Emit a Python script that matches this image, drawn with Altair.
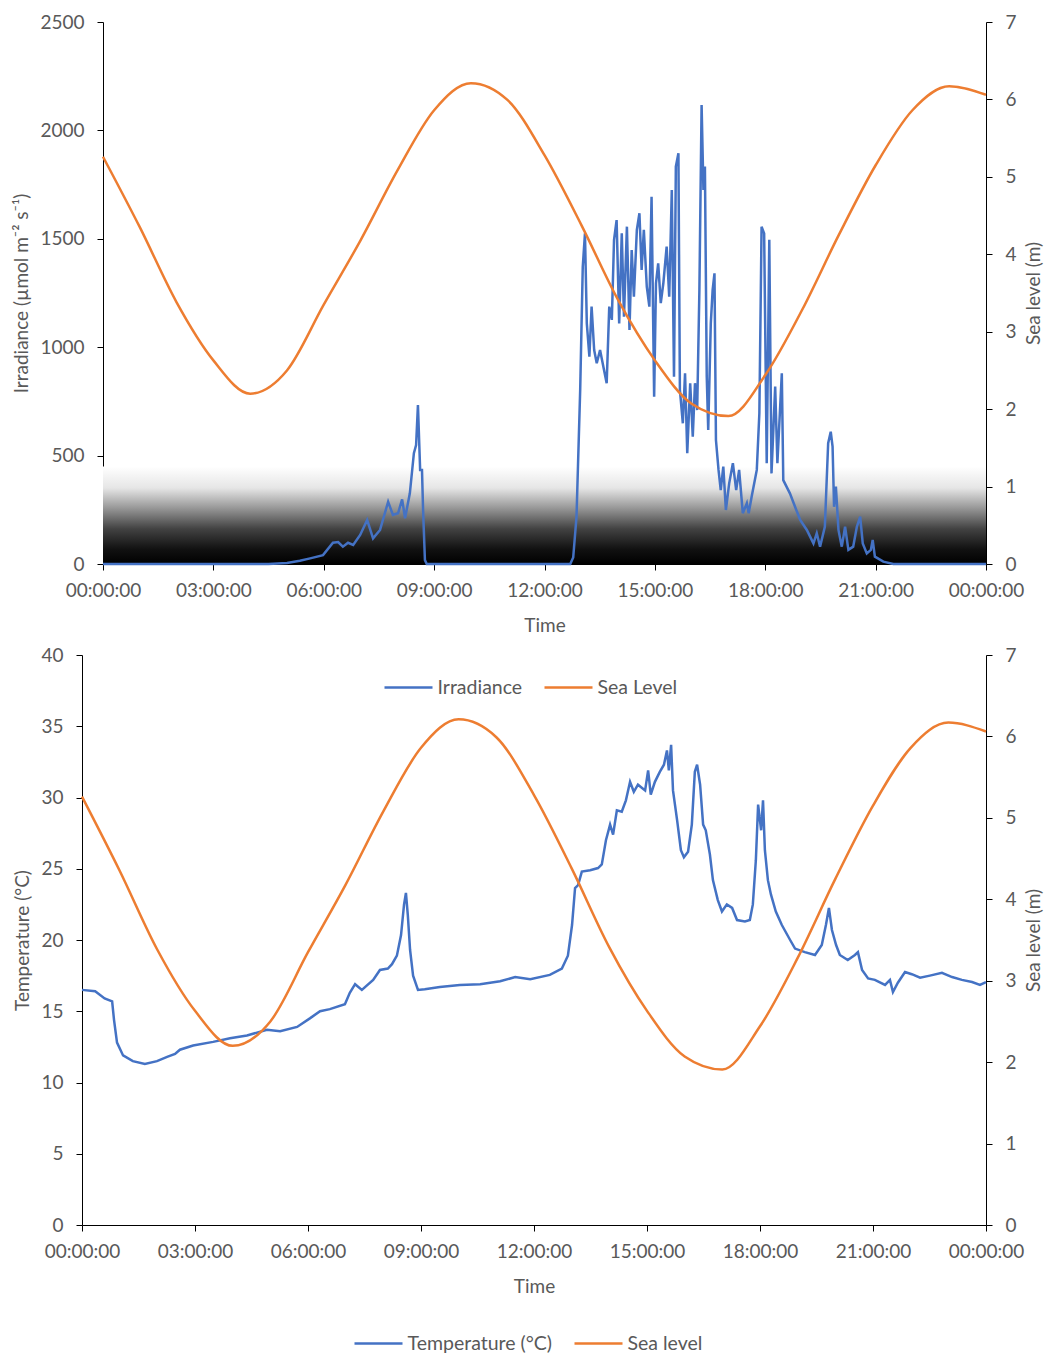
import altair as alt
import pandas as pd

FONT = "Lato"
TEXT = "#595959"
BLUE = "#4472C4"
ORANGE = "#ED7D31"

HOUR_TICKS = [0, 3, 6, 9, 12, 15, 18, 21, 24]

# ---- Sea level (m), shared by both panels ----
SEA_H = [0, 1, 2, 3, 4, 5, 6, 7, 8, 9, 10, 11, 12, 13, 14, 15, 16, 17, 18, 19, 20, 21, 22, 23, 24]
SEA_M = [5.26, 4.35, 3.38, 2.63, 2.20, 2.50, 3.35, 4.18, 5.08, 5.86, 6.21, 5.99, 5.28, 4.38,
         3.41, 2.63, 2.07, 1.91, 2.44, 3.28, 4.25, 5.15, 5.86, 6.17, 6.06]

# ---- Irradiance (umol m-2 s-1) ----
IRR_H = [0, 4.5, 5.0, 5.35, 5.63, 5.98, 6.25, 6.39, 6.52, 6.66, 6.8, 6.99, 7.18, 7.34, 7.53,
         7.75, 7.88, 8.02, 8.13, 8.21, 8.34, 8.45, 8.51, 8.56, 8.62, 8.67, 8.70, 8.75, 8.8,
         12.7, 12.78, 12.87, 12.97, 13.04, 13.1, 13.15, 13.22, 13.28, 13.35, 13.42, 13.51,
         13.6, 13.69, 13.76, 13.83, 13.89, 13.96, 14.03, 14.1, 14.16, 14.24, 14.31, 14.37,
         14.43, 14.51, 14.58, 14.64, 14.7, 14.78, 14.85, 14.91, 14.98, 15.03, 15.09, 15.16,
         15.23, 15.32, 15.39, 15.46, 15.52, 15.57, 15.64, 15.68, 15.76, 15.82, 15.88, 15.96,
         16.03, 16.09, 16.15, 16.21, 16.27, 16.32, 16.36, 16.41, 16.45, 16.52, 16.57, 16.62,
         16.66, 16.73, 16.79, 16.86, 16.93, 17.02, 17.12, 17.21, 17.29, 17.39, 17.5, 17.55,
         17.63, 17.77, 17.84, 17.9, 17.97, 18.04, 18.11, 18.17, 18.27, 18.33, 18.45, 18.49,
         18.67, 18.81, 18.95, 19.13, 19.31, 19.4, 19.49, 19.62, 19.71, 19.78, 19.83, 19.87,
         19.92, 19.99, 20.08, 20.17, 20.26, 20.39, 20.49, 20.58, 20.65, 20.76, 20.87, 20.92,
         20.98, 21.21, 21.48, 24]
IRR_V = [0, 0, 5, 15, 26, 41, 98, 101, 80, 98, 88, 134, 203, 118, 157,
         287, 226, 234, 298, 211, 326, 511, 549, 733, 434, 434, 249, 18, 0,
         0, 30, 218, 803, 1371, 1525, 1110, 956, 1187, 987, 926, 987,
         910, 834, 1187, 1126, 1495, 1586, 1110, 1525, 1141, 1556, 1079, 1448,
         1233, 1541, 1618, 1356, 1541, 1279, 1187, 1694, 772, 1295, 1387, 1203,
         1295, 1464, 1233, 1725, 864, 1833, 1895, 803, 649, 880, 511, 834,
         587, 834, 710, 1264, 2117, 1725, 1833, 864, 618, 1110, 1264, 1341,
         572, 434, 341, 449, 249, 372, 465, 341, 434, 234, 280, 234,
         310, 434, 695, 1556, 1525, 465, 1495, 418, 818, 465, 880, 387,
         326, 264, 203, 157, 95, 142, 80, 172, 557, 610, 541, 264,
         357, 157, 80, 172, 65, 80, 172, 218, 95, 49, 65, 111,
         34, 11, 0, 0]

# ---- Temperature (degC) ----
TEMP_H = [0, 0.35, 0.6, 0.8, 0.85, 0.93, 1.09, 1.35, 1.67, 1.99, 2.26, 2.47, 2.6, 2.95, 3.48,
          3.93, 4.38, 4.91, 5.26, 5.71, 6.05, 6.32, 6.58, 6.98, 7.11, 7.25, 7.43, 7.73, 7.91,
          8.12, 8.23, 8.36, 8.47, 8.55, 8.6, 8.65, 8.71, 8.79, 8.92, 9.1, 9.5, 10.03, 10.57,
          11.1, 11.5, 11.9, 12.42, 12.74, 12.9, 13.01, 13.09, 13.17, 13.27, 13.49, 13.7, 13.8,
          13.91, 14.02, 14.1, 14.2, 14.33, 14.44, 14.55, 14.65, 14.76, 14.95, 15.03, 15.1,
          15.21, 15.34, 15.45, 15.53, 15.58, 15.64, 15.69, 15.8, 15.9, 15.98, 16.09, 16.19,
          16.27, 16.33, 16.41, 16.49, 16.56, 16.67, 16.75, 16.88, 16.99, 17.12, 17.26, 17.39,
          17.6, 17.73, 17.81, 17.89, 17.95, 18.03, 18.08, 18.13, 18.21, 18.29, 18.42, 18.58,
          18.8, 18.93, 19.19, 19.46, 19.64, 19.75, 19.83, 19.91, 20.02, 20.12, 20.33, 20.52,
          20.6, 20.71, 20.87, 21.05, 21.32, 21.45, 21.53, 21.66, 21.85, 22.03, 22.25, 22.51,
          22.83, 23.1, 23.36, 23.63, 23.84, 24]
TEMP_V = [16.5, 16.4, 15.9, 15.7, 14.4, 12.8, 11.9, 11.5, 11.3, 11.5, 11.8, 12.0, 12.3, 12.6, 12.85,
          13.1, 13.3, 13.7, 13.6, 13.9, 14.5, 15.0, 15.15, 15.5, 16.3, 16.9, 16.5, 17.2, 17.9,
          18.0, 18.3, 18.9, 20.35, 22.5, 23.3, 21.75, 19.3, 17.5, 16.5, 16.55, 16.7, 16.85, 16.9,
          17.1, 17.4, 17.25, 17.55, 18.0, 18.9, 21.05, 23.65, 23.85, 24.8, 24.9, 25.05, 25.3,
          27.0, 28.1, 27.4, 29.1, 29.0, 29.8, 31.1, 30.4, 30.9, 30.5, 31.9, 30.2,
          31.1, 31.8, 32.3, 33.3, 31.9, 33.7, 30.5, 28.4, 26.3, 25.8, 26.2, 28.1,
          31.8, 32.3, 30.9, 28.1, 27.7, 26.0, 24.2, 22.8, 22.0, 22.5, 22.25, 21.4,
          21.3, 21.4, 22.5, 25.6, 29.5, 27.7, 29.8, 26.3, 24.2, 23.2, 22.0, 21.05,
          20.0, 19.4, 19.15, 18.95, 19.65, 21.05, 22.25, 20.7, 19.65, 18.95, 18.6, 18.95,
          19.15, 17.9, 17.3, 17.2, 16.85, 17.2, 16.35, 17.0, 17.75, 17.6, 17.35, 17.5,
          17.7, 17.4, 17.2, 17.05, 16.85, 17.05]

# Dark backdrop band behind the low irradiance range (upper value in irradiance units)
BACKDROP = pd.DataFrame({"h": [0], "h_end": [24], "v": [0], "v_end": [450]})

irr_df = pd.DataFrame({"h": IRR_H, "value": IRR_V, "series": "Irradiance"})
sea_top_df = pd.DataFrame({"h": SEA_H, "value": SEA_M, "series": "Sea Level"})
temp_df = pd.DataFrame({"h": TEMP_H, "value": TEMP_V, "series": "Temperature (°C)"})
sea_bot_df = pd.DataFrame({"h": SEA_H, "value": SEA_M, "series": "Sea level"})

LABEL_EXPR = "(datum.value % 24 < 10 ? '0' : '') + (datum.value % 24) + ':00:00'"
FS = 19
LW = 2.5


def x_enc(rng, field="h"):
    return alt.X(f"{field}:Q",
                 scale=alt.Scale(domain=[0, 24], nice=False, zero=False, **rng),
                 axis=alt.Axis(values=HOUR_TICKS, labelExpr=LABEL_EXPR, title="Time",
                               labelAngle=0, labelOverlap=False, labelFlush=False,
                               tickSize=6, labelPadding=11, titlePadding=16))


def left_axis(title, values, offset=0, title_pad=12):
    return alt.Axis(values=values, title=title, tickSize=6, labelPadding=13, format="d",
                    titlePadding=title_pad, offset=offset)


def right_axis():
    return alt.Axis(orient="right", values=list(range(0, 8)), title="Sea level (m)", format="d",
                    tickSize=6, labelPadding=13, titlePadding=8, titleAngle=270,
                    titleBaseline="top")


def legend(x, y):
    return alt.Legend(orient="none", legendX=x, legendY=y, direction="horizontal", title=None,
                      symbolType="M-2.4,0H2.4", symbolSize=400, symbolStrokeWidth=2.5,
                      labelFont=FONT, labelFontSize=19.5, labelColor=TEXT,
                      columnPadding=16, labelOffset=17.5, padding=0)


grad = alt.Gradient(
    gradient="linear", x1=0, x2=0, y1=0, y2=1,
    stops=[alt.GradientStop(color="#ffffff", offset=0),
           alt.GradientStop(color="#e6e6e6", offset=0.22),
           alt.GradientStop(color="#9a9a9a", offset=0.42),
           alt.GradientStop(color="#424242", offset=0.64),
           alt.GradientStop(color="#111111", offset=0.85),
           alt.GradientStop(color="#000000", offset=1)])

# ---------------- Top panel ----------------
TOP_W, TOP_H = 904, 542
top_rng = {"range": [21, TOP_W]}
irr_axis = left_axis("Irradiance (µmol m⁻² s⁻¹)", [0, 500, 1000, 1500, 2000, 2500],
                     offset=-21, title_pad=8)
irr_scale = alt.Scale(domain=[0, 2500], nice=False)
top_color = alt.Color("series:N", scale=alt.Scale(domain=["Irradiance", "Sea Level"],
                                                   range=[BLUE, ORANGE]),
                      legend=legend(315, 654))

backdrop = alt.Chart(BACKDROP).mark_rect(color=grad).encode(
    x=x_enc(top_rng), x2="h_end:Q",
    y=alt.Y("v:Q", scale=irr_scale, axis=irr_axis), y2="v_end:Q")
irr_line = alt.Chart(irr_df).mark_line(strokeWidth=LW).encode(
    x=x_enc(top_rng), y=alt.Y("value:Q", scale=irr_scale, axis=irr_axis), color=top_color)
sea_top = alt.Chart(sea_top_df).mark_line(strokeWidth=LW, interpolate="monotone").encode(
    x=x_enc(top_rng),
    y=alt.Y("value:Q", scale=alt.Scale(domain=[0, 7], nice=False), axis=right_axis()),
    color=top_color)

top = alt.layer(alt.layer(backdrop, irr_line), sea_top).resolve_scale(y="independent").properties(
    width=TOP_W, height=TOP_H)

# ---------------- Bottom panel ----------------
BOT_W, BOT_H = 904, 570
bot_rng = {}
temp_scale = alt.Scale(domain=[0, 40], nice=False)
bot_color = alt.Color("series:N", scale=alt.Scale(domain=["Temperature (°C)", "Sea level"],
                                                   range=[BLUE, ORANGE]),
                      legend=legend(285, 677))
temp_line = alt.Chart(temp_df).mark_line(strokeWidth=LW).encode(
    x=x_enc(bot_rng),
    y=alt.Y("value:Q", scale=temp_scale,
            axis=left_axis("Temperature (°C)", [0, 5, 10, 15, 20, 25, 30, 35, 40], title_pad=8)),
    color=bot_color)
sea_bot = alt.Chart(sea_bot_df).mark_line(strokeWidth=LW, interpolate="monotone").encode(
    x=x_enc(bot_rng),
    y=alt.Y("value:Q", scale=alt.Scale(domain=[0, 7], nice=False), axis=right_axis()),
    color=bot_color)

bottom = alt.layer(temp_line, sea_bot).resolve_scale(y="independent").properties(
    width=BOT_W, height=BOT_H)

chart = alt.vconcat(top, bottom, spacing=91, bounds="flush").resolve_scale(
    color="independent", x="independent", y="independent"
).properties(
    padding={"left": 4, "top": 5, "right": 0, "bottom": 0}
).configure_view(stroke=None).configure_axis(
    labelFont=FONT, titleFont=FONT, labelFontSize=FS, titleFontSize=FS,
    labelColor=TEXT, titleColor=TEXT, titleFontWeight="normal",
    domainColor="#000000", tickColor="#000000", domainWidth=1, tickWidth=1, grid=False
).configure_legend(labelFont=FONT)

chart.save("out.html", embed_options={"renderer": "svg", "actions": False})
